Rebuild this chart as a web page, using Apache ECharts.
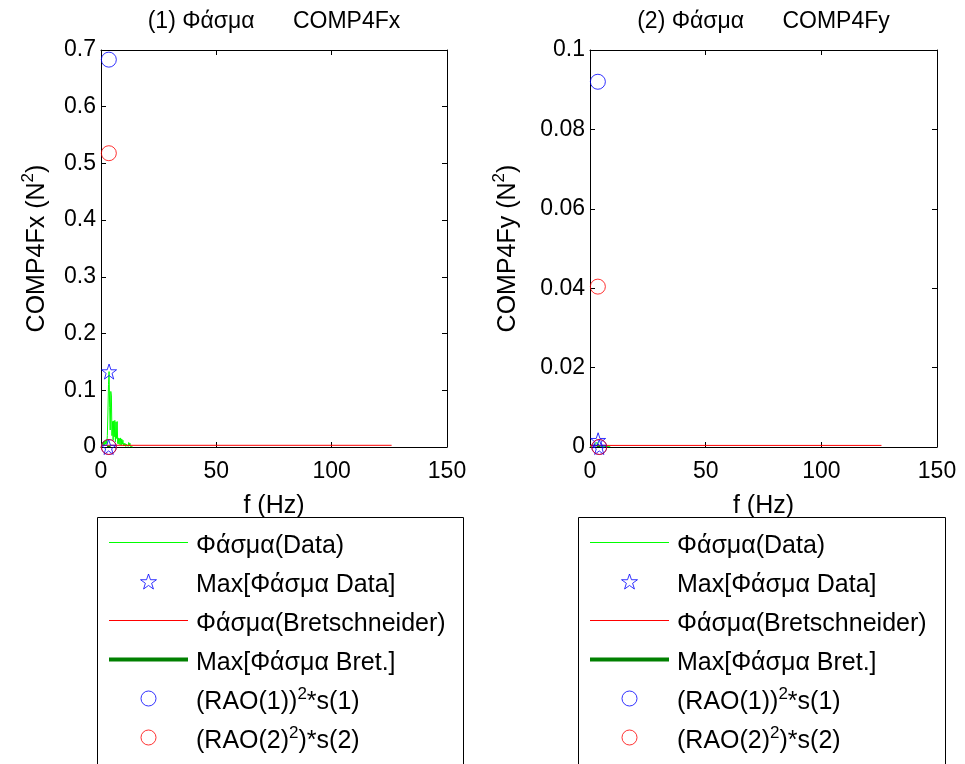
<!DOCTYPE html>
<html>
<head>
<meta charset="utf-8">
<script src="https://cdn.jsdelivr.net/npm/echarts@6/dist/echarts.min.js"></script>
<style>
html,body{margin:0;padding:0;background:#fff;}
#chart{width:965px;height:764px;}
</style>
</head>
<body>
<div id="chart"></div>
<script>
// ---------- data ----------
const titles = ['(1) Φάσμα      COMP4Fx', '(2) Φάσμα      COMP4Fy'];
const yNames = ['COMP4Fx', 'COMP4Fy'];
const xTicks = [0, 50, 100, 150];
const yTicksFx = [0, 0.1, 0.2, 0.3, 0.4, 0.5, 0.6, 0.7];
const yTicksFy = [0, 0.02, 0.04, 0.06, 0.08, 0.1];

// spectrum of data, COMP4Fx
const freqFx = [0,0.25,0.5,0.75,1,1.25,1.5,1.75,2,2.25,2.5,2.75,3,3.25,3.5,3.75,4,4.25,4.5,4.75,5,5.25,5.5,5.75,6,6.25,6.5,6.75,7,7.25,7.5,7.75,8,8.25,8.5,8.75,9,9.25,9.5,9.75,10,10.25,10.5,10.75,11,11.25,11.5,11.75,12,12.25,12.5,12.75,13,13.25,13.5,13.75];
const specFx = [0.001,0.004,0.002,0.008,0.003,0.010,0.004,0.011,0.005,0.012,0.006,0.020,0.060,0.110,0.133,0.070,0.030,0.098,0.090,0.020,0.045,0.012,0.046,0.018,0.047,0.009,0.044,0.015,0.045,0.006,0.016,0.005,0.015,0.004,0.016,0.003,0.014,0.005,0.012,0.002,0.007,0.002,0.006,0.001,0.005,0.002,0.006,0.001,0.008,0.002,0.007,0.001,0.003,0.001,0.001,0.000];
// spectrum of data, COMP4Fy
const freqFy = [0,0.25,0.5,0.75,1,1.25,1.5,1.75,2,2.25,2.5,2.75,3,3.25,3.5,3.75,4,4.25,4.5,4.75,5,5.25,5.5,5.75,6,6.25,6.5,6.75,7,7.25,7.5,7.75,8,8.25,8.5,8.75,9];
const specFy = [0.0001,0.0002,0.0001,0.0003,0.0002,0.0004,0.0002,0.0005,0.0003,0.0006,0.0004,0.0009,0.0012,0.0015,0.0017,0.0011,0.0003,0.0008,0.0002,0.0005,0.0006,0.0002,0.0005,0.0003,0.0006,0.0001,0.0005,0.0002,0.0004,0.0001,0.0003,0.0001,0.0003,0.0001,0.0002,0.0001,0.0001];

// max of data spectrum [f, value]
const maxDataFx = [[3.5, 0.133], [3.3, 0]];
const maxDataFy = [[3.5, 0.0017], [4.0, 0]];
// Bretschneider spectrum [f, value]
const bretFx = [[0, 0.003], [126, 0.003]];
const bretFy = [[0, 0.0004], [126, 0.0004]];
// max of Bretschneider spectrum
const maxBretFx = [[3.4, 0], [3.4, 0.002]];
const maxBretFy = [[3.6, 0], [3.6, 0.0003]];
// (RAO(1))^2*s(1)
const rao1Fx = [[3.4, 0.683], [3.4, 0]];
const rao1Fy = [[3.4, 0.092], [4.0, 0]];
// (RAO(2)^2)*s(2)
const rao2Fx = [[3.4, 0.518], [3.4, 0]];
const rao2Fy = [[3.4, 0.0404], [4.0, 0]];

const seriesNames = ['Φάσμα(Data)', 'Max[Φάσμα Data]', 'Φάσμα(Bretschneider)', 'Max[Φάσμα Bret.]', '(RAO(1))2*s(1)', '(RAO(2)2)*s(2)'];
const legendRich = {
  '(RAO(1))2*s(1)': '(RAO(1)){sup|2}*s(1)',
  '(RAO(2)2)*s(2)': '(RAO(2){sup|2})*s(2)'
};

// ---------- chart ----------
const FONT = "'Liberation Sans', Arial, sans-serif";
const FS_TICK = 23, FS_TITLE = 23, FS_NAME = 25, FS_LEG = 25;
const STAR = 'path://M50,2 L61.8,36.2 L97.6,36.2 L68.6,57.4 L79.4,91.6 L50,70.4 L20.6,91.6 L31.4,57.4 L2.4,36.2 L38.2,36.2 Z';
const supRich = { sup: { fontSize: 17, fontFamily: FONT, color: '#000', padding: [0, 0, 17, 0] } };
const C_DATA = '#00ff00', C_BRET = '#ff0000', C_MAXB = '#008000', C_BLUE = '#0000ff', C_RED = '#ff0000';

const grids = [
  { left: 101, top: 50, width: 346, height: 397 },
  { left: 590, top: 50, width: 347, height: 397 }
];
const yMax = [yTicksFx[yTicksFx.length - 1], yTicksFy[yTicksFy.length - 1]];
const yInt = [yTicksFx[1] - yTicksFx[0], yTicksFy[1] - yTicksFy[0]];
const yGap = [47, 65];

const xAxes = [], yAxes = [];
grids.forEach((g, i) => {
  const common = {
    gridIndex: i, type: 'value', min: xTicks[0], max: xTicks[xTicks.length - 1],
    interval: xTicks[1] - xTicks[0],
    axisLine: { show: true, onZero: false, lineStyle: { color: '#000', width: 1 } },
    axisTick: { show: true, inside: true, length: 5, lineStyle: { color: '#000' } },
    splitLine: { show: false }
  };
  xAxes.push(Object.assign({}, common, {
    position: 'bottom',
    name: 'f (Hz)', nameLocation: 'middle', nameGap: 47,
    nameTextStyle: { fontFamily: FONT, fontSize: FS_NAME, color: '#000' },
    axisLabel: { fontFamily: FONT, fontSize: FS_TICK, color: '#000', margin: 13 }
  }));
  xAxes.push(Object.assign({}, common, { position: 'top', axisLabel: { show: false } }));
  const ycommon = {
    gridIndex: i, type: 'value', min: 0, max: yMax[i], interval: yInt[i],
    axisLine: { show: true, onZero: false, lineStyle: { color: '#000', width: 1 } },
    axisTick: { show: true, inside: true, length: 5, lineStyle: { color: '#000' } },
    splitLine: { show: false }
  };
  yAxes.push(Object.assign({}, ycommon, {
    position: 'left',
    name: yNames[i] + ' (N{sup|2})', nameLocation: 'middle', nameGap: yGap[i], nameRotate: 90,
    nameTextStyle: { fontFamily: FONT, fontSize: FS_NAME, color: '#000', rich: supRich },
    axisLabel: { fontFamily: FONT, fontSize: FS_TICK, color: '#000', margin: 5 }
  }));
  yAxes.push(Object.assign({}, ycommon, { position: 'right', axisLabel: { show: false } }));
});

function seriesFor(i, spec, freq, maxD, bret, maxB, r1, r2) {
  const ax = { xAxisIndex: 2 * i, yAxisIndex: 2 * i };
  return [
    Object.assign({ type: 'line', name: seriesNames[0], data: freq.map((f, k) => [f, spec[k]]),
      symbol: 'none', lineStyle: { color: C_DATA, width: 1 }, itemStyle: { color: C_DATA }, z: 2 }, ax),
    Object.assign({ type: 'line', name: seriesNames[2], data: bret,
      symbol: 'none', lineStyle: { color: C_BRET, width: 1 }, itemStyle: { color: C_BRET }, z: 3 }, ax),
    Object.assign({ type: 'line', name: seriesNames[3], data: maxB,
      symbol: 'none', lineStyle: { color: C_MAXB, width: 3.5 }, itemStyle: { color: C_MAXB }, z: 4 }, ax),
    Object.assign({ type: 'scatter', name: seriesNames[1], data: maxD, symbol: STAR, symbolSize: 15,
      itemStyle: { color: 'rgba(0,0,0,0)', borderColor: C_BLUE, borderWidth: 1 }, z: 5 }, ax),
    Object.assign({ type: 'scatter', name: seriesNames[4], data: r1, symbol: 'circle', symbolSize: 15,
      itemStyle: { color: 'rgba(0,0,0,0)', borderColor: C_BLUE, borderWidth: 1 }, z: 5 }, ax),
    Object.assign({ type: 'scatter', name: seriesNames[5], data: r2, symbol: 'circle', symbolSize: 15,
      itemStyle: { color: 'rgba(0,0,0,0)', borderColor: C_RED, borderWidth: 1 }, z: 5 }, ax)
  ];
}

const series = [].concat(
  seriesFor(0, specFx, freqFx, maxDataFx, bretFx, maxBretFx, rao1Fx, rao2Fx),
  seriesFor(1, specFy, freqFy, maxDataFy, bretFy, maxBretFy, rao1Fy, rao2Fy)
);

const noSym = { color: 'rgba(0,0,0,0)', borderWidth: 0, opacity: 0 };
function legendAt(left) {
  return {
    orient: 'vertical', left: left, top: 523, padding: 0,
    itemWidth: 79, itemHeight: 15, itemGap: 0,
    data: [
      { name: seriesNames[0], itemStyle: noSym, lineStyle: { color: C_DATA, width: 1 } },
      { name: seriesNames[1], itemStyle: { color: 'rgba(0,0,0,0)', borderColor: C_BLUE, borderWidth: 1 } },
      { name: seriesNames[2], itemStyle: noSym, lineStyle: { color: C_BRET, width: 1 } },
      { name: seriesNames[3], itemStyle: noSym, lineStyle: { color: C_MAXB, width: 4 } },
      { name: seriesNames[4], itemStyle: { color: 'rgba(0,0,0,0)', borderColor: C_BLUE, borderWidth: 1 } },
      { name: seriesNames[5], itemStyle: { color: 'rgba(0,0,0,0)', borderColor: C_RED, borderWidth: 1 } }
    ],
    selectedMode: false,
    formatter: n => legendRich[n] || n,
    textStyle: { fontFamily: FONT, fontSize: FS_LEG, color: '#000', lineHeight: 31, padding: [8, 0, 0, 3], rich: supRich }
  };
}

const option = {
  animation: false,
  backgroundColor: '#fff',
  title: titles.map((t, i) => ({
    text: t, left: grids[i].left + grids[i].width / 2, top: 10, padding: 0, textAlign: 'center',
    textStyle: { fontFamily: FONT, fontSize: FS_TITLE, fontWeight: 'normal', color: '#000' }
  })),
  grid: grids,
  xAxis: xAxes,
  yAxis: yAxes,
  legend: [legendAt(107), legendAt(588)],
  graphic: [
    { type: 'rect', shape: { x: 97.5, y: 517.5, width: 366, height: 300 }, style: { fill: null, stroke: '#000', lineWidth: 1 }, silent: true },
    { type: 'rect', shape: { x: 578.5, y: 517.5, width: 367, height: 300 }, style: { fill: null, stroke: '#000', lineWidth: 1 }, silent: true }
  ],
  series: series
};

const chart = echarts.init(document.getElementById('chart'), null, { renderer: 'canvas' });
chart.setOption(option);
</script>
</body>
</html>
